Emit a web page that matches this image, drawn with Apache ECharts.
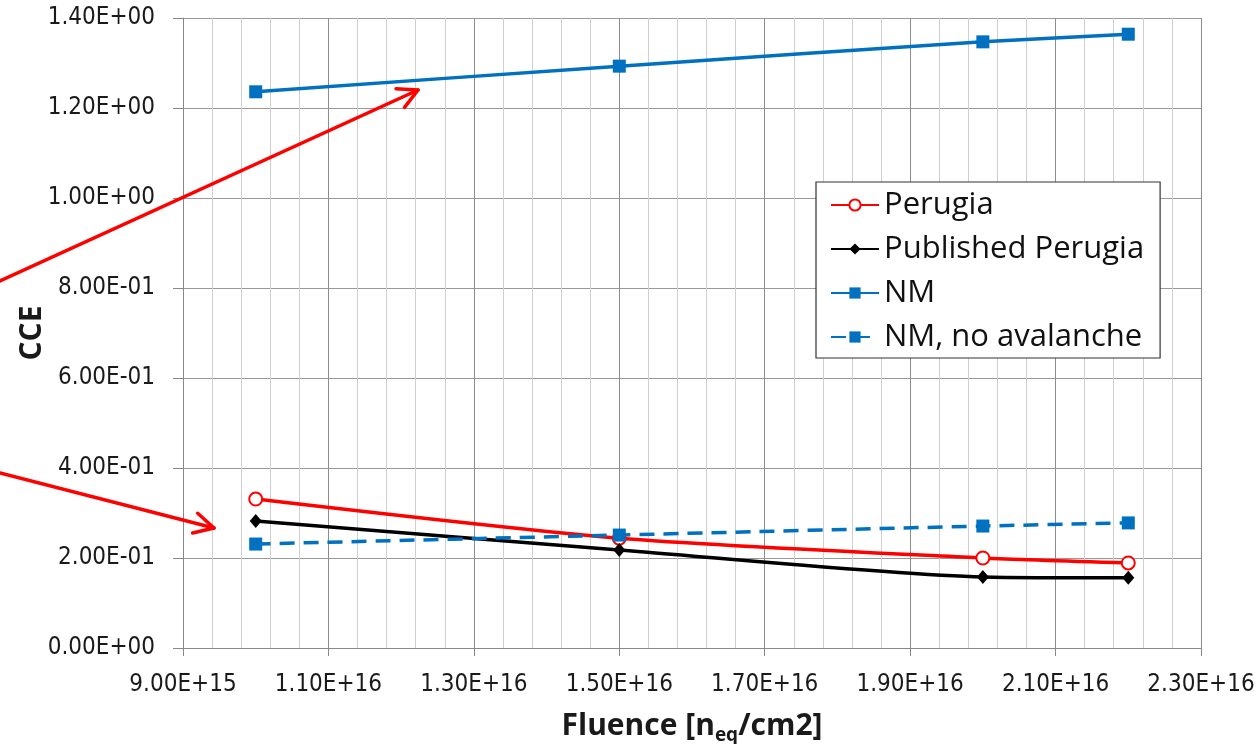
<!DOCTYPE html>
<html>
<head>
<meta charset="utf-8">
<script src="https://cdn.jsdelivr.net/npm/echarts@6/dist/echarts.min.js"></script>
<style>
  html, body { margin: 0; padding: 0; background: #fff; }
  #chart { width: 1257px; height: 744px; }
</style>
</head>
<body>
<div id="chart"></div>
<script>
// Fluence values (n_eq/cm2)
const fluence = [1.0e16, 1.5e16, 2.0e16, 2.2e16];

// Charge collection efficiency per data set
const perugia          = [0.331, 0.244, 0.200, 0.189];
const publishedPerugia = [0.282, 0.218, 0.158, 0.156];
const nm               = [1.236, 1.293, 1.347, 1.364];
const nmNoAvalanche    = [0.231, 0.251, 0.271, 0.278];

const seriesNames = ['Perugia', 'Published Perugia', 'NM', 'NM, no avalanche'];

const TICK_FONT = '"Liberation Sans Narrow", "DejaVu Sans Condensed", "Noto Sans", sans-serif';
const TEXT_FONT = '"Open Sans", "Noto Sans", sans-serif';

// Scientific notation with two-digit exponent, e.g. 1.40E+00
function sci(v) {
  const s = Number(v).toExponential(2).toUpperCase();
  const m = s.match(/^(-?[\d.]+)E([+-])(\d+)$/);
  if (!m) return s;
  return m[1] + 'E' + m[2] + (m[3].length < 2 ? '0' + m[3] : m[3]);
}

function pairs(ys) { return fluence.map((x, i) => [x, ys[i]]); }

// Red annotation arrow: shaft plus two head strokes
function arrow(x1, y1, x2, y2, head) {
  const a = Math.atan2(y2 - y1, x2 - x1);
  const sp = Math.PI / 6.5;
  const p1 = [x2 - head * Math.cos(a - sp), y2 - head * Math.sin(a - sp)];
  const p2 = [x2 - head * Math.cos(a + sp), y2 - head * Math.sin(a + sp)];
  const style = { stroke: '#ff0000', lineWidth: 3.5, lineCap: 'round', lineJoin: 'round' };
  return [
    { type: 'line', shape: { x1, y1, x2, y2 }, style, z: 100 },
    { type: 'polyline', shape: { points: [p1, [x2, y2], p2] }, style, z: 100 }
  ];
}

const chart = echarts.init(document.getElementById('chart'), null, { renderer: 'canvas' });

const lineBase = { type: 'line', smooth: 0.25, symbolKeepAspect: true, z: 5 };

chart.setOption({
  animation: false,
  backgroundColor: '#ffffff',
  grid: { left: 183, right: 56, top: 18, bottom: 96, containLabel: false, outerBoundsMode: 'none' },
  xAxis: {
    type: 'value',
    min: 9e15, max: 2.3e16, interval: 2e15,
    name: '{b|Fluence [n}{s|eq}{b|/cm2]}',
    nameLocation: 'middle',
    nameGap: 59,
    nameMoveOverlap: false,
    nameTextStyle: {
      rich: {
        b: { fontFamily: TEXT_FONT, fontWeight: 'bold', fontSize: 30, color: '#1a1a1a', lineHeight: 38 },
        s: { fontFamily: TEXT_FONT, fontWeight: 'bold', fontSize: 19, color: '#1a1a1a', lineHeight: 38, verticalAlign: 'bottom', padding: [10, 0, 0, 0] }
      }
    },
    axisLine: { show: true, lineStyle: { color: '#888', width: 1 } },
    axisTick: { show: true, length: 8, lineStyle: { color: '#888' } },
    axisLabel: { formatter: sci, fontFamily: TICK_FONT, fontSize: 24, color: '#1a1a1a', margin: 25 },
    splitLine: { show: true, lineStyle: { color: '#8c8c8c', width: 1 } },
    minorSplitLine: { show: true, lineStyle: { color: '#cfcfcf', width: 1 } },
    minorTick: { show: false, splitNumber: 5 }
  },
  yAxis: {
    type: 'value',
    min: 0, max: 1.4, interval: 0.2,
    name: 'CCE',
    nameLocation: 'middle',
    nameGap: 136,
    nameMoveOverlap: false,
    nameTextStyle: { fontFamily: TEXT_FONT, fontWeight: 'bold', fontSize: 30, color: '#1a1a1a' },
    axisLine: { show: true, lineStyle: { color: '#888', width: 1 } },
    axisTick: { show: true, length: 10, lineStyle: { color: '#888' } },
    axisLabel: { formatter: sci, fontFamily: TICK_FONT, fontSize: 24, color: '#1a1a1a', margin: 28 },
    splitLine: { show: true, lineStyle: { color: '#999', width: 1 } }
  },
  legend: {
    orient: 'vertical',
    left: 816, top: 182,
    padding: [6, 16, 4, 14],
    backgroundColor: '#ffffff',
    borderColor: '#333',
    borderWidth: 1.2,
    itemWidth: 48, itemHeight: 14,
    itemGap: 10,
    data: seriesNames,
    textStyle: { fontFamily: TEXT_FONT, fontSize: 31, lineHeight: 34, color: '#111' }
  },
  series: [
    Object.assign({}, lineBase, {
      name: seriesNames[0], data: pairs(perugia),
      symbol: 'emptyCircle', symbolSize: 13,
      lineStyle: { color: '#ff0000', width: 3.5 },
      itemStyle: { color: '#ff0000', borderWidth: 2.5 }
    }),
    Object.assign({}, lineBase, {
      name: seriesNames[1], data: pairs(publishedPerugia),
      symbol: 'diamond', symbolSize: [12, 14],
      lineStyle: { color: '#000000', width: 3.5 },
      itemStyle: { color: '#000000' }
    }),
    Object.assign({}, lineBase, {
      name: seriesNames[2], data: pairs(nm),
      symbol: 'rect', symbolSize: 13,
      lineStyle: { color: '#0070c0', width: 3.5 },
      itemStyle: { color: '#0070c0' }
    }),
    Object.assign({}, lineBase, {
      name: seriesNames[3], data: pairs(nmNoAvalanche),
      symbol: 'rect', symbolSize: 13,
      lineStyle: { color: '#0070c0', width: 3.5, type: [15, 9] },
      itemStyle: { color: '#0070c0' }
    })
  ],
  graphic: [].concat(
    arrow(0, 281, 418, 90, 22),
    arrow(0, 473, 214, 528, 22)
  )
});
</script>
</body>
</html>
